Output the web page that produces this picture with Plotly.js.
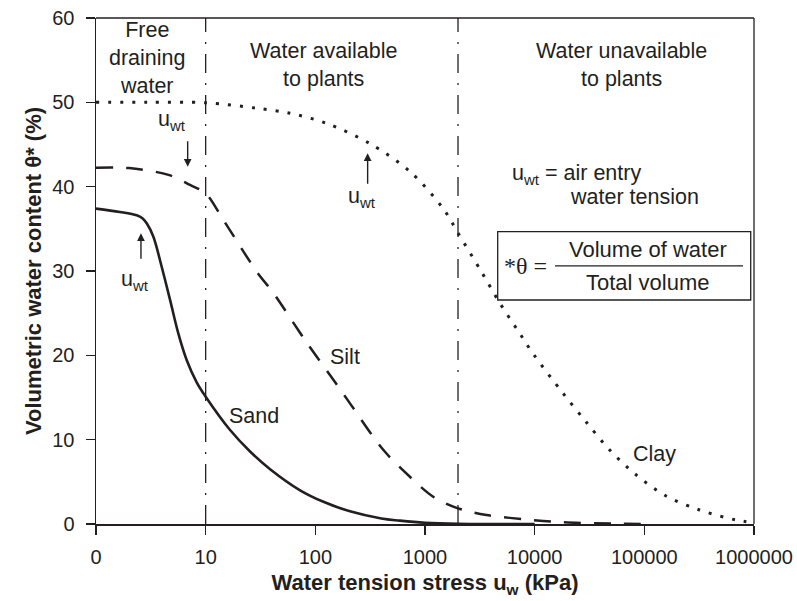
<!DOCTYPE html>
<html>
<head>
<meta charset="utf-8">
<script src="https://cdn.plot.ly/plotly-3.0.1.min.js"></script>
<style>html,body{margin:0;padding:0;background:#fff;}#chart{width:797px;height:601px;}</style>
</head>
<body>
<div id="chart"></div>
<script>
// Water tension stress (kPa), log axis; tick at 1 is labelled "0"
var tickVals = [1, 10, 100, 1000, 10000, 100000, 1000000];
var tickText = ['0', '10', '100', '1000', '10000', '100000', '1000000'];
var yTickVals = [0, 10, 20, 30, 40, 50, 60];

var sandX = [1, 1.65, 2.35, 2.65, 2.9, 3.33, 3.97, 4.73, 5.63, 6.71, 8.28, 10, 16.7, 25.4, 38.7, 72.6, 120, 207, 400, 590, 1000, 2000, 5000, 10000];
var sandY = [37.4, 37.0, 36.6, 36.25, 35.66, 34.1, 30.5, 26.6, 22.6, 19.45, 16.8, 15.1, 11.15, 8.6, 6.5, 4.0, 2.6, 1.5, 0.65, 0.4, 0.15, 0.02, 0, 0];

var siltX = [1, 2, 4.58, 7.2, 10, 14.5, 29.3, 41.4, 80.6, 146, 207, 416, 728, 1188, 2000, 3640, 9600, 18000, 50000, 100000];
var siltY = [42.25, 42.2, 41.4, 40.2, 39.2, 36.05, 29.9, 27.4, 21.8, 17.1, 14.3, 8.8, 5.6, 3.24, 1.86, 1.07, 0.47, 0.2, 0.05, 0];

var clayX = [1, 3, 10, 29.3, 58.9, 127, 315, 728, 1466, 2000, 3275, 4810, 7310, 9670, 18150, 29650, 48300, 84500, 158000, 319000, 689000, 1000000];
var clayY = [50.0, 50.0, 49.95, 49.3, 48.7, 47.5, 45.1, 41.8, 37.4, 34.5, 29.9, 26.2, 22.6, 20.2, 15.5, 12.06, 8.78, 5.81, 3.32, 1.66, 0.47, 0.15];

// zone boundaries (kPa)
var boundaries = [10, 2000];
var yMax = 60;

var INK = '#231f20';
var FONT = 'Liberation Sans, Arial, Helvetica, sans-serif';
var SERIF = 'Liberation Serif, Times New Roman, serif';

var traces = [];
boundaries.forEach(function (b) {
  traces.push({x: [b, b], y: [0, yMax], mode: 'lines', hoverinfo: 'skip',
    line: {color: INK, width: 1.3, dash: '19px,10px,2px,10px'}});
});
traces.push({x: clayX, y: clayY, mode: 'lines', name: 'Clay',
  line: {color: INK, width: 3, dash: '3px,9px', shape: 'spline', smoothing: 0.9}});
traces.push({x: siltX, y: siltY, mode: 'lines', name: 'Silt',
  line: {color: INK, width: 2.5, dash: '17px,13px', shape: 'spline', smoothing: 0.9}});
traces.push({x: sandX, y: sandY, mode: 'lines', name: 'Sand',
  line: {color: INK, width: 2.6, shape: 'spline', smoothing: 1}});

function txt(text, x, y, opts) {
  var a = {text: text, x: x, y: y, xref: 'x', yref: 'y', showarrow: false,
    font: {family: FONT, size: 21.5, color: INK}, xanchor: 'center', yanchor: 'middle'};
  for (var k in opts) a[k] = opts[k];
  return a;
}
function arrow(x, y, ay) {
  return {text: '', x: x, y: y, xref: 'x', yref: 'y', showarrow: true, ax: 0, ay: ay,
    arrowhead: 2, arrowsize: 1.1, arrowwidth: 1.4, arrowcolor: INK, standoff: 0};
}

var annotations = [
  txt('Free<br>draining<br>water', 0.474, 55.3),
  txt('Water available<br>to plants', 2.07, 54.4),
  txt('Water unavailable<br>to plants', 4.796, 54.4),
  txt('u<sub>wt</sub> = air entry', 3.775, 41.4, {xanchor: 'left'}),
  txt('water tension', 4.304, 38.8, {xanchor: 'left'}),
  txt('*θ =', 3.912, 30.6, {font: {family: SERIF, size: 24, color: INK}}),
  txt('Volume of water', 5.033, 32.5, {font: {family: FONT, size: 22, color: INK}}),
  txt('Total volume', 5.033, 28.58, {font: {family: FONT, size: 22, color: INK}}),
  txt('u<sub>wt</sub>', 0.693, 47.9),
  txt('u<sub>wt</sub>', 0.356, 28.93),
  txt('u<sub>wt</sub>', 2.425, 38.66),
  arrow(0.836, 42.37, -27),
  arrow(0.41, 34.47, 27),
  arrow(2.477, 43.96, 32),
  txt('Silt', 2.266, 19.84),
  txt('Sand', 1.441, 12.8),
  txt('Clay', 5.094, 8.3)
];

var shapes = [
  // frame top and right
  {type: 'line', xref: 'paper', yref: 'paper', x0: 0, x1: 1, y0: 1, y1: 1, line: {color: INK, width: 1.3}},
  {type: 'line', xref: 'paper', yref: 'paper', x0: 1, x1: 1, y0: 0, y1: 1, line: {color: INK, width: 1.3}},
  // definition box
  {type: 'rect', xref: 'paper', yref: 'paper', x0: 0.6105, x1: 0.995, y0: 0.4427, y1: 0.5777,
    line: {color: INK, width: 1.3}, fillcolor: 'rgba(0,0,0,0)'},
  // fraction bar
  {type: 'line', xref: 'paper', yref: 'paper', x0: 0.6976, x1: 0.9833, y0: 0.51, y1: 0.51,
    line: {color: INK, width: 1.3}}
];

var layout = {
  width: 797, height: 601,
  margin: {l: 96, r: 43, t: 18, b: 77, pad: 0},
  paper_bgcolor: '#ffffff', plot_bgcolor: '#ffffff',
  showlegend: false,
  font: {family: FONT, color: INK, size: 20},
  xaxis: {
    type: 'log', range: [0, 6], tickvals: tickVals, ticktext: tickText,
    ticks: 'outside', ticklen: 9, tickwidth: 1.5, tickcolor: INK, ticklabelstandoff: 5,
    showline: true, linecolor: INK, linewidth: 2, showgrid: false, zeroline: false,
    tickfont: {family: FONT, size: 20, color: INK},
    title: {text: '<b>Water tension stress u<sub>w</sub> (kPa)</b>', font: {family: FONT, size: 22, color: INK}, standoff: 8}
  },
  yaxis: {
    range: [0, yMax], tickvals: yTickVals,
    ticks: 'outside', ticklen: 9, tickwidth: 1.5, tickcolor: INK, ticklabelstandoff: 7,
    showline: true, linecolor: INK, linewidth: 1.5, showgrid: false, zeroline: false,
    tickfont: {family: FONT, size: 20, color: INK},
    title: {text: '<b>Volumetric water content θ* (%)</b>', font: {family: FONT, size: 22, color: INK}, standoff: 4}
  },
  annotations: annotations,
  shapes: shapes
};

Plotly.newPlot('chart', traces, layout, {staticPlot: true, displayModeBar: false});
</script>
</body>
</html>
